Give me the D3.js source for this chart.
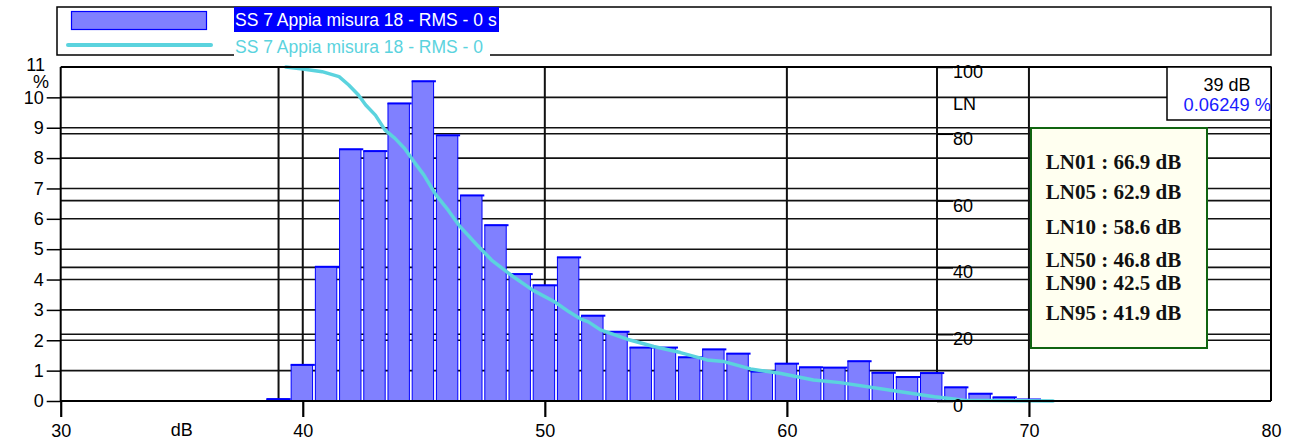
<!DOCTYPE html>
<html>
<head>
<meta charset="utf-8">
<script src="https://cdn.jsdelivr.net/npm/d3@7"></script>
<style>
  html, body { margin: 0; padding: 0; background: #fff; }
  svg { display: block; font-family: "Liberation Sans", Arial, sans-serif; }
</style>
</head>
<body>
<svg id="chart" width="1303" height="440"></svg>
<script>
// ---------- data ----------
const binDb = [39,40,41,42,43,44,45,46,47,48,49,50,51,52,53,54,55,56,57,58,59,60,61,62,63,64,65,66,67,68,69,70];
const binPct = [0.0625,1.19,4.42,8.29,8.23,9.80,10.53,8.75,6.77,5.79,4.18,3.81,4.73,2.81,2.28,1.76,1.76,1.44,1.70,1.56,0.97,1.23,1.11,1.10,1.31,0.93,0.79,0.92,0.45,0.24,0.12,0.05];
const curveDb = [39.3,40.0,40.8,41.5,41.9,42.3,42.6,43.0,43.4,43.8,44.2,44.6,45.0,45.5,46.0,46.5,47.2,47.8,48.7,49.5,50.4,51.0,51.5,51.8,52.3,53.4,54.5,55.6,56.7,57.4,58.5,59.7,61.1,62.2,64.7,66.1,66.9,67.3,71.0];
const curveLn = [100,99.4,98.6,97.1,94.6,91.6,88.6,85.6,81.1,78.7,75.7,71.6,67.7,61.7,57.2,52.2,46.7,42.2,37.2,33.2,29.7,26.7,24.5,23.7,21.3,18.5,16.3,14.5,12.3,11.8,9.6,8.3,6.3,5.5,2.8,1.3,0.6,0.2,0];
const xTicks = [30,40,50,60,70,80];
const yTicks = [0,1,2,3,4,5,6,7,8,9,10];
const lnTicks = [0,20,40,60,80,100];
const lnStats = ["LN01 : 66.9 dB","LN05 : 62.9 dB","LN10 : 58.6 dB","LN50 : 46.8 dB","LN90 : 42.5 dB","LN95 : 41.9 dB"];
const legendLabels = ["SS 7 Appia misura 18 - RMS - 0 s","SS 7 Appia misura 18 - RMS - 0"];
const cursorDb = 39;
const cursorLabel = "39 dB";
const cursorPct = "0.06249 %";

// ---------- layout ----------
const svg = d3.select("#chart");
const L = 60.7, R = 1271, T = 67, B = 401;
const x = d3.scaleLinear().domain([30,80]).range([L,R]);
const y = d3.scaleLinear().domain([0,11]).range([B,T]);
const yLn = d3.scaleLinear().domain([0,100]).range([B,T]);
const lnAxisX = 937;
const FONT = 18;
const cyan = "#5bd3de";

// ---------- legend ----------
const lg = svg.append("g");
lg.append("rect").attr("x",57).attr("y",7).attr("width",1271-57).attr("height",48)
  .attr("fill","#fff").attr("stroke","#000").attr("stroke-width",1.5);
lg.append("rect").attr("x",71.5).attr("y",11.5).attr("width",135).attr("height",18)
  .attr("fill","#8080ff").attr("stroke","#0000ff").attr("stroke-width",1.2);
lg.append("line").attr("x1",68).attr("x2",211).attr("y1",45).attr("y2",45)
  .attr("stroke",cyan).attr("stroke-width",4).attr("stroke-linecap","round");
lg.append("rect").attr("x",234).attr("y",7).attr("width",265).attr("height",25).attr("fill","#0000ff");
lg.append("text").attr("x",235).attr("y",26).attr("font-size",17.5).attr("fill","#fff").text(legendLabels[0]);
lg.append("rect").attr("x",234).attr("y",32).attr("width",256).attr("height",25).attr("fill","#fff");
lg.append("text").attr("x",235).attr("y",52.5).attr("font-size",17.5).attr("fill",cyan).text(legendLabels[1]);

// ---------- grid ----------
const grid = svg.append("g").attr("stroke","#111").attr("stroke-width",1.6);
grid.selectAll(".hg").data(yTicks.filter(d => d > 0)).join("line")
  .attr("x1",L).attr("x2",R).attr("y1",d => y(d)).attr("y2",d => y(d));
grid.selectAll(".hl").data(lnTicks.filter(d => d > 0 && d < 100)).join("line")
  .attr("x1",L).attr("x2",R).attr("y1",d => yLn(d)).attr("y2",d => yLn(d));
grid.selectAll(".vg").data([cursorDb,40,50,60,70]).join("line")
  .attr("stroke-width",2)
  .attr("x1",d => x(d)).attr("x2",d => x(d)).attr("y1",T).attr("y2",B);
grid.append("line").attr("stroke-width",2).attr("x1",lnAxisX).attr("x2",lnAxisX).attr("y1",T).attr("y2",B);

// ---------- bars ----------
const bw = x(1) - x(0);
const bars = svg.append("g");
const bd = binDb.map((d,i) => ({db:d, v:binPct[i]}));
bars.selectAll("rect").data(bd).join("rect")
  .attr("x", d => x(d.db - 0.5) + 0.5)
  .attr("width", bw - 2.8)
  .attr("y", d => y(d.v))
  .attr("height", d => B - y(d.v))
  .attr("fill","#8080ff").attr("stroke","#0000ff").attr("stroke-width",1);
bars.selectAll("line").data(bd).join("line")
  .attr("x1", d => x(d.db - 0.5)).attr("x2", d => x(d.db + 0.5))
  .attr("y1", d => y(d.v)).attr("y2", d => y(d.v))
  .attr("stroke","#0000ff").attr("stroke-width",2);

// ---------- curve ----------
const line = d3.line().x(d => x(d[0])).y(d => yLn(d[1]));
svg.append("path").datum(curveDb.map((d,i) => [d, curveLn[i]]))
  .attr("d", line).attr("fill","none").attr("stroke",cyan)
  .attr("stroke-width",3.5).attr("stroke-linejoin","round").attr("stroke-linecap","round");

// ---------- frame ----------
const fr = svg.append("g").attr("stroke","#000").attr("stroke-width",2);
fr.append("line").attr("x1",L).attr("x2",R).attr("y1",T).attr("y2",T);
fr.append("line").attr("x1",R).attr("x2",R).attr("y1",T).attr("y2",B);

// ---------- axes ----------
const ax = svg.append("g").attr("transform",`translate(${L},0)`)
  .call(d3.axisLeft(y).tickValues(yTicks).tickSize(14).tickPadding(3).tickFormat(d3.format("d")));
ax.select(".domain").attr("stroke","#000").attr("stroke-width",2).attr("d",`M0,${T}V${B}`);
ax.selectAll(".tick line").attr("stroke","#000").attr("stroke-width",1.5);
ax.selectAll("text").attr("font-size",FONT).attr("font-family","Liberation Sans, Arial").attr("fill","#000");
svg.append("text").attr("x",45).attr("y",y(11)+4).attr("text-anchor","end").attr("font-size",FONT).text("11");
svg.append("text").attr("x",49).attr("y",y(11)+21).attr("text-anchor","end").attr("font-size",FONT).text("%");

const bx = svg.append("g").attr("transform",`translate(0,${B})`)
  .call(d3.axisBottom(x).tickValues(xTicks).tickSize(16).tickPadding(7).tickFormat(d3.format("d")));
bx.select(".domain").attr("stroke","#000").attr("stroke-width",2).attr("d",`M${L},0H${R}`);
bx.selectAll(".tick line").attr("stroke","#000").attr("stroke-width",2.2)
  .attr("opacity", d => d === 80 ? 0 : 1);
bx.selectAll("text").attr("font-size",FONT).attr("font-family","Liberation Sans, Arial").attr("fill","#000");
svg.append("text").attr("x",x(35)).attr("y",436).attr("text-anchor","middle").attr("font-size",FONT).text("dB");

// LN axis (right-facing, labels over grid)
const lx = svg.append("g").attr("transform",`translate(${lnAxisX},0)`)
  .call(d3.axisRight(yLn).tickValues(lnTicks).tickSize(16).tickPadding(0).tickFormat(d3.format("d")));
lx.select(".domain").remove();
lx.selectAll(".tick line").attr("stroke","#000").attr("stroke-width",1.5);
lx.selectAll("text").attr("font-size",FONT).attr("font-family","Liberation Sans, Arial")
  .attr("fill","#000").attr("dy","0.58em");
svg.append("text").attr("x",lnAxisX+16).attr("y",110).attr("font-size",FONT).text("LN");

// ---------- cursor box ----------
svg.append("rect").attr("x",1167).attr("y",T).attr("width",R-1167).attr("height",53)
  .attr("fill","#fff").attr("stroke","#000").attr("stroke-width",1.5);
svg.append("text").attr("x",1227).attr("y",91).attr("text-anchor","middle").attr("font-size",18).text(cursorLabel);
svg.append("text").attr("x",1271).attr("y",111).attr("text-anchor","end").attr("font-size",18.3)
  .attr("fill","#1a1aff").text(cursorPct);

// ---------- LN stats box ----------
svg.append("rect").attr("x",1031).attr("y",128).attr("width",176).attr("height",220)
  .attr("fill","#fffff0").attr("stroke","#106410").attr("stroke-width",2);
const statY = [161.7,191.7,226.7,260,283.3,313.3];
svg.append("g").selectAll("text").data(lnStats).join("text")
  .attr("x",1113.5).attr("y",(d,i) => statY[i] + 7)
  .attr("text-anchor","middle")
  .attr("font-family","Liberation Serif, Times New Roman, serif")
  .attr("font-weight","bold").attr("font-size",21).attr("fill","#111")
  .text(d => d);
</script>
</body>
</html>
